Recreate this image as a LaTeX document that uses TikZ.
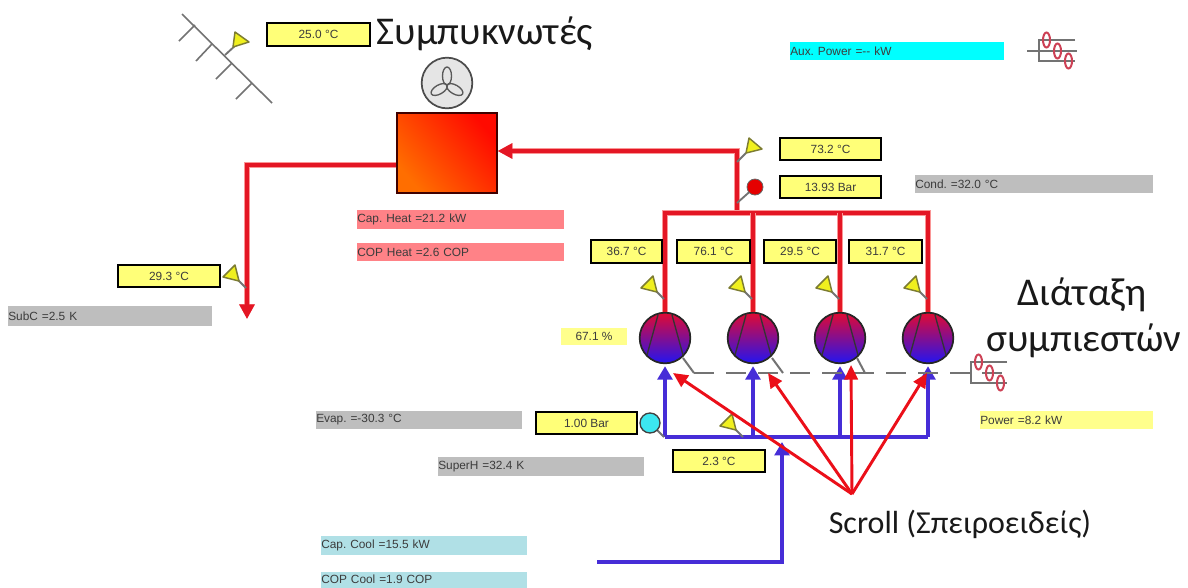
\documentclass[tikz,border=0pt]{standalone}
\usepackage{fontspec}
\setmainfont{Liberation Sans}
\newfontfamily\grk{Carlito}
\usetikzlibrary{arrows.meta,calc}
\definecolor{hotred}{RGB}{228,22,36}
\definecolor{halo}{RGB}{250,150,150}
\definecolor{coldblue}{RGB}{70,45,215}
\definecolor{labelyellow}{RGB}{255,255,120}
\definecolor{paleyellow}{RGB}{255,255,140}
\definecolor{barpink}{RGB}{255,130,135}
\definecolor{bargray}{RGB}{190,190,190}
\definecolor{barteal}{RGB}{176,224,230}
\definecolor{barcyan}{RGB}{0,255,255}
\definecolor{stemgray}{RGB}{115,115,115}
\definecolor{txtgray}{RGB}{60,60,60}
\definecolor{callred}{RGB}{235,15,25}
\definecolor{flagedge}{RGB}{125,125,50}
\definecolor{flagfill}{RGB}{240,240,30}
\definecolor{coilred}{RGB}{205,65,85}
\definecolor{dotcyan}{RGB}{60,230,240}
\tikzset{
  redpipe/.style={draw=hotred,line width=2.7pt,preaction={draw=halo,line width=3.8pt},line join=miter},
  bluepipe/.style={draw=coldblue,line width=3pt,line join=miter},
  redtip/.style={-{Triangle[length=11pt,width=11pt]}},
  bluetip/.style={-{Triangle[length=10pt,width=11pt]}},
  callout/.style={draw=callred,line width=2.2pt,-{Triangle[length=11pt,width=10pt]}},
  readout/.style={draw=black,line width=1.8pt,fill=labelyellow,inner sep=0pt,text=txtgray,font=\fontsize{8.9pt}{10pt}\selectfont},
  barlabel/.style={inner sep=0pt,anchor=west,align=left,text=txtgray,font=\fontsize{8.9pt}{10pt}\selectfont},
  compressor/.style={circle,draw=black!85,line width=1.3pt,minimum size=38pt,inner sep=0pt,top color={rgb,255:red,225;green,10;blue,50},middle color={rgb,255:red,125;green,15;blue,135},bottom color={rgb,255:red,35;green,20;blue,240}},
  stem/.style={draw=stemgray,line width=1.4pt},
  flag/.style={draw=flagedge,line width=1.1pt,fill=flagfill,line join=round},
  greek/.style={inner sep=0pt,text=black!90,font=\grk\fontsize{29.5pt}{34pt}\selectfont},
  coil/.style={draw=coilred,line width=1.5pt},
  bus/.style={draw=stemgray,line width=1.5pt}
}
\newcommand{\barlbl}[7]{\node[barlabel,fill=#6,minimum height=#5*0.75pt,text width=#4*0.75pt] (#1) at (#2,#3) {#7};}
\newcommand{\rdout}[6]{\node[readout,minimum width=(#3-#2)*0.75pt,minimum height=#5*0.75pt] (#1) at ({(#2+#3)/2},#4) {#6};}
\newcommand{\flagUL}[2]{\draw[stem] (#1-11,#2-11) -- (#1,#2);
  \draw[flag] (#1-11,#2-23) -- (#1-23,#2-11) -- (#1-7,#2-7) -- cycle;}
\newcommand{\flagUR}[2]{\draw[stem] (#1+9,#2-9) -- (#1,#2);
  \draw[flag] (#1+12,#2-24) -- (#1+25,#2-13) -- (#1+9,#2-9) -- cycle;}
\newcommand{\coilset}[2]{%
  \draw[bus] (#1+36,#2-11) -- (#1,#2-11) -- (#1,#2+10) -- (#1+36,#2+10);
  \draw[coil] (#1+7.5,#2-11) ellipse (3.5 and 7.5);
  \draw[coil] (#1+18.5,#2) ellipse (3.5 and 7.5);
  \draw[coil] (#1+29.5,#2+10) ellipse (3.5 and 7.5);}
\frenchspacing
\begin{document}
\begin{tikzpicture}[x=0.75pt,y=-0.75pt]
\useasboundingbox (0,0) rectangle (1188,587);
\fill[white] (0,0) rectangle (1188,587);

% outdoor symbol
\draw[draw=stemgray,line width=1.2pt] (182,14) -- (272,103);
\foreach \a/\b/\c/\d in {195/25/179/41,212/44/196/61,232/63/216/79,252/83/236/99}
  \draw[draw=stemgray,line width=1.2pt] (\a,\b) -- (\c,\d);
\draw[stem] (225,55) -- (237,44);
\draw[flag] (235,32) -- (249,42) -- (233,47) -- cycle;

% coordinates of pipes
\coordinate (riserTop) at (737,151);
\coordinate (riserBot) at (737,213);
\coordinate (hL) at (665,213);
\coordinate (hR) at (928,213);
\coordinate (outCorner) at (247,165);
\coordinate (outEnd) at (247,319);
\coordinate (feedStart) at (597,562);
\coordinate (feedCorner) at (782,562);
\coordinate (feedEnd) at (782,442);
\coordinate (apex) at (852,494);

% condenser
\node[draw=black!75!red,line width=1pt,minimum width=75pt,minimum height=60pt,inner sep=0pt,
  bottom color={rgb,255:red,255;green,110;blue,0},middle color={rgb,255:red,252;green,45;blue,0},top color={rgb,255:red,255;green,10;blue,0},shading angle=-50] (cond) at (447,153) {};
\node[circle,draw=black!70,line width=1.3pt,fill=black!10,minimum size=38pt,inner sep=0pt] (fan) at (447,83) {};
\coordinate (hub) at (447,85);
\foreach \r in {0,120,240}
  \draw[draw=black!65,line width=1pt,rotate around={\r:(hub)}] ($(hub)+(0,-9)$) ellipse (4.5 and 9);

% compressors
\node[compressor] (c1) at (665,338) {};
\node[compressor] (c2) at (753,338) {};
\node[compressor] (c3) at (840,338) {};
\node[compressor] (c4) at (928,338) {};
\foreach \n in {c1,c2,c3,c4}{
  \draw[draw=black!80,line width=1pt] ($(\n.center)+(-7,-23)$) -- ($(\n.center)+(-18,17)$);
  \draw[draw=black!80,line width=1pt] ($(\n.center)+(7,-23)$) -- ($(\n.center)+(18,17)$);
}

% red pipes
\draw[redpipe,redtip] (riserBot) -- (riserTop) -- (cond.east |- riserTop);
\draw[redpipe,redtip] (cond.west |- outCorner) -- (outCorner) -- (outEnd);
\draw[redpipe] (c1.north) -- (hL) -- (hR) -- (c4.north);
\draw[redpipe] (c2.north) -- (c2.north |- hL);
\draw[redpipe] (c3.north) -- (c3.north |- hL);

% blue pipes
\coordinate (bL) at (665,437);
\coordinate (bR) at (928,437);
\draw[bluepipe,bluetip] (bL) -- ($(c1.south)+(0,2)$);
\draw[bluepipe,bluetip] (bR) -- ($(c4.south)+(0,2)$);
\draw[bluepipe,bluetip] (753,437) -- ($(c2.south)+(0,2)$);
\draw[bluepipe,bluetip] (840,437) -- ($(c3.south)+(0,2)$);
\draw[bluepipe] (bL) -- (bR);
\draw[bluepipe,bluetip] (feedStart) -- (feedCorner) -- (feedEnd);

% motor / power bus
\coordinate (busL) at (694,373);
\draw[bus,dash pattern=on 15pt off 9pt] (busL) -- (1007,373);
\draw[bus] (683,358) -- (busL);
\draw[bus] (772,358) -- (783,373);
\draw[bus] (857,358) -- (865,373);
\coilset{971}{373}
\draw[bus] (1027,51) -- (1077,51);
\coilset{1039}{51}

% sensors
\flagUL{664}{299}\flagUL{752}{299}\flagUL{839}{299}\flagUL{927}{299}
\flagUL{246}{288}\flagUL{743}{437}
\flagUR{737}{162}
\draw[stem] (737,203) -- (755,187);
\node[circle,draw=black!60,line width=.6pt,fill=red!90!black,minimum size=12pt,inner sep=0pt] (pHigh) at (755,187) {};
\draw[stem] (664,437) -- (650,423);
\node[circle,draw=black!75,line width=1pt,fill=dotcyan,minimum size=15pt,inner sep=0pt] (pLow) at (650,423) {};

% readouts
\rdout{tAmb}{267}{370}{34.5}{23}{25.0 °C}
\rdout{tDis}{780}{881}{149}{22}{73.2 °C}
\rdout{pDis}{780}{881}{187}{22}{13.93 Bar}
\rdout{t1}{591}{662}{251.5}{23}{36.7 °C}
\rdout{t2}{677}{750}{251.5}{23}{76.1 °C}
\rdout{t3}{764}{836}{251.5}{23}{29.5 °C}
\rdout{t4}{849}{922}{251.5}{23}{31.7 °C}
\rdout{tLiq}{118}{220}{276}{22}{29.3 °C}
\rdout{pSuc}{536}{637}{423}{22}{1.00 Bar}
\rdout{tSuc}{673}{765}{461}{22}{2.3 °C}

% value bars
\barlbl{bAux}{790}{51}{214}{18}{barcyan}{Aux. Power =-{}- kW}
\barlbl{bCond}{915}{184}{238}{18}{bargray}{Cond. =32.0 °C}
\barlbl{bCapH}{357}{219.5}{207}{19}{barpink}{Cap. Heat =21.2 kW}
\barlbl{bCopH}{357}{252}{207}{18}{barpink}{COP Heat =2.6 COP}
\barlbl{bSubC}{8}{316}{204}{20}{bargray}{SubC =2.5 K}
\barlbl{bEvap}{316}{420}{206}{18}{bargray}{Evap. =-30.3 °C}
\barlbl{bSupH}{438}{466.5}{206}{19}{bargray}{SuperH =32.4 K}
\barlbl{bCapC}{321}{545.5}{206}{19}{barteal}{Cap. Cool =15.5 kW}
\barlbl{bCopC}{321}{579.5}{206}{16}{barteal}{COP Cool =1.9 COP}
\barlbl{bPow}{980}{420}{173}{18}{paleyellow}{Power =8.2 kW}
\node[barlabel,fill=paleyellow,minimum height=17*0.75pt,minimum width=66*0.75pt,align=center,anchor=center] (bLoad) at (594,336.5) {67.1 \%};

% captions
\node[greek,anchor=center] (capCond) at (485,34) {Συμπυκνωτές};
\node[greek,anchor=center] (capArr1) at (1082,295) {Διάταξη};
\node[greek,anchor=center] (capArr2) at (1084,341) {συμπιεστών};
\node[greek,anchor=center,font=\grk\fontsize{24pt}{28pt}\selectfont] (capScroll) at (960,524) {Scroll (Σπειροειδείς)};

% callouts
\draw[callout] (apex) -- (673,373);
\draw[callout] (apex) -- (768,373);
\draw[callout] (apex) -- (851,365);
\draw[callout] (apex) -- (927,373);
\end{tikzpicture}
\end{document}
